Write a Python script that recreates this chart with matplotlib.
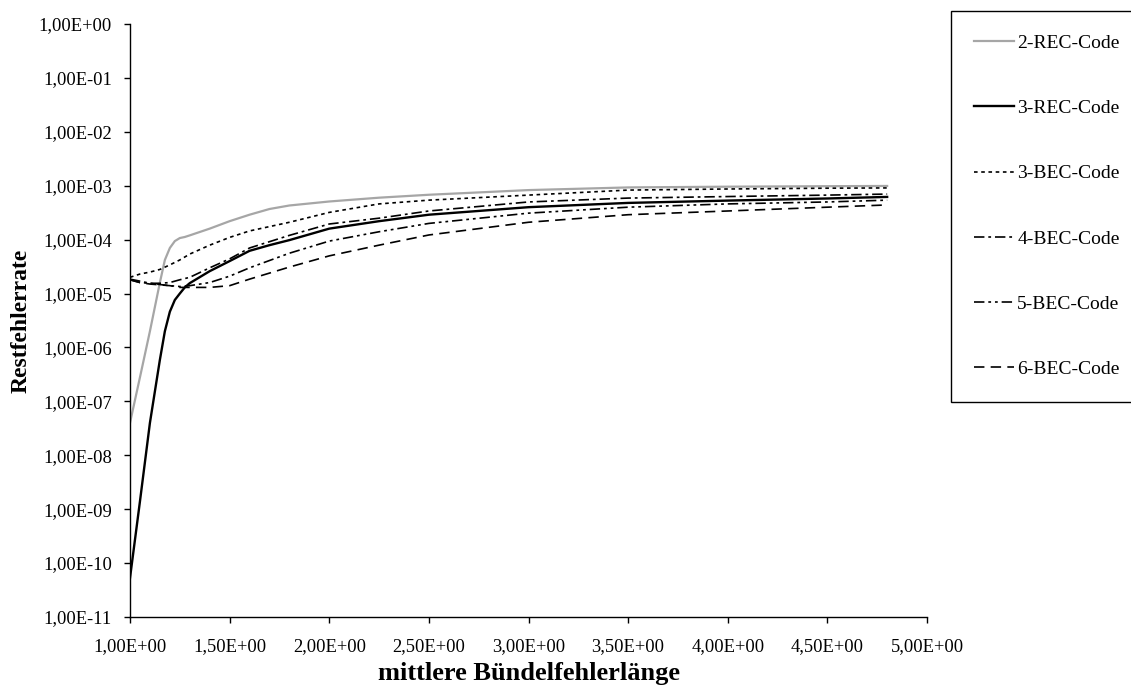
import matplotlib
matplotlib.use("Agg")
import matplotlib.pyplot as plt
from matplotlib.ticker import FixedLocator, FuncFormatter, NullLocator
import math

plt.rcParams['font.family'] = ['Liberation Serif', 'DejaVu Serif']
plt.rcParams['lines.scale_dashes'] = False

# ---- data ----
x_rec = [1.0, 1.05, 1.1, 1.15, 1.175, 1.2, 1.225, 1.25, 1.275, 1.3, 1.4, 1.5, 1.6, 1.7, 1.8,
         2.0, 2.25, 2.5, 3.0, 3.5, 4.0, 4.5, 4.8]
rec2 = [4.0e-8, 2.8e-7, 2.0e-6, 1.6e-5, 4.2e-5, 7.0e-5, 9.4e-5, 1.07e-4, 1.12e-4, 1.2e-4, 1.6e-4,
        2.2e-4, 2.9e-4, 3.7e-4, 4.3e-4, 5.1e-4, 6.0e-4, 6.8e-4, 8.3e-4, 9.3e-4, 9.6e-4, 9.8e-4, 9.9e-4]
rec3 = [5.3e-11, 1.4e-9, 4.0e-8, 5.9e-7, 2.0e-6, 4.6e-6, 7.6e-6, 1.0e-5, 1.3e-5, 1.56e-5, 2.6e-5,
        4.0e-5, 6.2e-5, 7.9e-5, 9.8e-5, 1.6e-4, 2.2e-4, 2.9e-4, 4.0e-4, 4.8e-4, 5.3e-4, 5.8e-4, 6.2e-4]

x_bec = [1.0, 1.05, 1.1, 1.15, 1.2, 1.25, 1.3, 1.4, 1.5, 1.6, 1.8, 2.0, 2.25, 2.5, 3.0, 3.5, 4.0, 4.5, 4.8]
bec3 = [2.0e-5, 2.3e-5, 2.5e-5, 2.8e-5, 3.4e-5, 4.2e-5, 5.4e-5, 7.9e-5, 1.1e-4, 1.45e-4,
        2.1e-4, 3.2e-4, 4.6e-4, 5.4e-4, 6.7e-4, 8.3e-4, 8.7e-4, 9.0e-4, 9.1e-4]
bec4 = [1.8e-5, 1.6e-5, 1.55e-5, 1.55e-5, 1.6e-5, 1.8e-5, 2.0e-5, 3.0e-5, 4.4e-5, 7.0e-5,
        1.2e-4, 1.95e-4, 2.5e-4, 3.4e-4, 5.0e-4, 5.9e-4, 6.3e-4, 6.7e-4, 7.0e-4]
bec5 = [1.85e-5, 1.7e-5, 1.55e-5, 1.47e-5, 1.4e-5, 1.35e-5, 1.4e-5, 1.6e-5, 2.1e-5, 3.0e-5,
        5.6e-5, 9.4e-5, 1.4e-4, 2.0e-4, 3.1e-4, 4.0e-4, 4.6e-4, 5.0e-4, 5.4e-4]
bec6 = [1.8e-5, 1.6e-5, 1.5e-5, 1.45e-5, 1.4e-5, 1.3e-5, 1.3e-5, 1.3e-5, 1.4e-5, 1.85e-5,
        3.1e-5, 5.0e-5, 7.9e-5, 1.22e-4, 2.1e-4, 2.9e-4, 3.4e-4, 4.0e-4, 4.4e-4]

series_labels = ["2-REC-Code", "3-REC-Code", "3-BEC-Code", "4-BEC-Code", "5-BEC-Code", "6-BEC-Code"]
x_ticks = [1.0, 1.5, 2.0, 2.5, 3.0, 3.5, 4.0, 4.5, 5.0]
y_ticks = [1e0, 1e-1, 1e-2, 1e-3, 1e-4, 1e-5, 1e-6, 1e-7, 1e-8, 1e-9, 1e-10, 1e-11]
x_label = "mittlere Bündelfehlerlänge"
y_label = "Restfehlerrate"

# ---- figure ----
W, H = 1131, 692
fig = plt.figure(figsize=(W / 100, H / 100), dpi=100)
ax = fig.add_axes([130 / W, 1 - 617 / H, 797 / W, (617 - 24) / H])

styles = [
    dict(color="#a6a6a6", lw=1.6, ls="-"),
    dict(color="black", lw=1.7, ls="-"),
    dict(color="black", lw=1.2, ls=(0, (2.6, 2.6))),
    dict(color="black", lw=1.2, ls=(0, (7.5, 2.8, 2.0, 2.8))),
    dict(color="black", lw=1.2, ls=(0, (7.5, 2.8, 2.0, 2.8, 2.0, 2.8))),
    dict(color="black", lw=1.2, ls=(0, (7.5, 4.5))),
]
xs_all = [x_rec, x_rec, x_bec, x_bec, x_bec, x_bec]
all_series = [rec2, rec3, bec3, bec4, bec5, bec6]
handles = []
for xs, ys, st, lab in zip(xs_all, all_series, styles, series_labels):
    h, = ax.plot(xs, ys, label=lab, solid_joinstyle="round", **st)
    handles.append(h)

ax.set_yscale("log")
ax.set_xlim(1.0, 5.0)
ax.set_ylim(1e-11, 1e0)

ax.yaxis.set_major_locator(FixedLocator(y_ticks))
ax.yaxis.set_minor_locator(NullLocator())
ax.xaxis.set_major_locator(FixedLocator(x_ticks))


def yfmt(v, pos):
    e = int(round(math.log10(v)))
    return "1,00E%s%02d" % ("-" if e < 0 else "+", abs(e))


def xfmt(v, pos):
    return ("%.2f" % v).replace(".", ",") + "E+00"


ax.yaxis.set_major_formatter(FuncFormatter(yfmt))
ax.xaxis.set_major_formatter(FuncFormatter(xfmt))

for s in ["top", "right"]:
    ax.spines[s].set_visible(False)
for s in ["left", "bottom"]:
    ax.spines[s].set_linewidth(1.0)
    ax.spines[s].set_color("black")

ax.tick_params(axis="both", direction="out", length=4, width=1.0, labelsize=13.3, colors="black")
ax.tick_params(axis="y", pad=9)
ax.tick_params(axis="x", pad=11)

ax.set_xlabel(x_label, fontsize=19, fontweight="bold")
ax.set_ylabel(y_label, fontsize=17, fontweight="bold")
ax.xaxis.set_label_coords(0.5, (617 - 662) / 593)
ax.yaxis.set_label_coords((32 - 130) / 797, 0.5)

leg = fig.legend(handles=handles, labels=series_labels, loc="upper left",
                 bbox_to_anchor=(951 / W, 1 - 11 / H), bbox_transform=fig.transFigure,
                 frameon=True, fancybox=False, edgecolor="black", framealpha=1,
                 fontsize=14, handlelength=2.06, handletextpad=0.15,
                 labelspacing=2.45, borderpad=1.2, borderaxespad=0)
leg.get_frame().set_linewidth(1.0)

fig.savefig("out.png", dpi=100)
